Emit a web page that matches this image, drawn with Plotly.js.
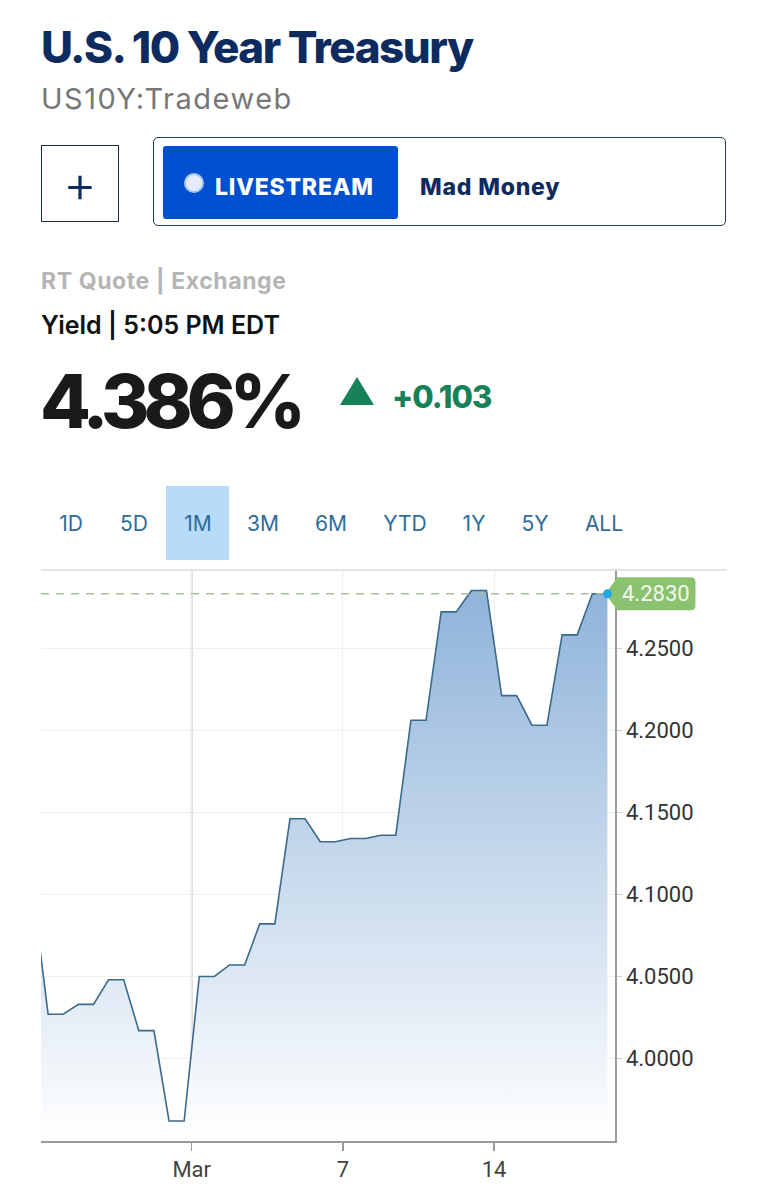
<!DOCTYPE html>
<html>
<head>
<meta charset="utf-8">
<script src="https://cdn.plot.ly/plotly-3.0.1.min.js"></script>
<style>
html,body{margin:0;padding:0;background:#fff;width:768px;height:1200px;overflow:hidden;}
.abs{position:absolute;white-space:nowrap;line-height:1;z-index:2;}
#title{left:41px;top:20px;font:800 44px Inter,sans-serif;color:#0d2b5e;letter-spacing:-1.5px;}
#sub{left:41px;top:81px;font:400 29px Inter,sans-serif;color:#777;letter-spacing:1.5px;}
#plus{left:41px;top:145px;width:76px;height:75px;border:1.5px solid #1d2b45;display:flex;align-items:center;justify-content:center;font:300 52px Inter,sans-serif;color:#0d2b5e;}
#outer{left:153px;top:137px;width:571px;height:87px;border:1.5px solid #2a3b55;border-radius:5px;}
#live{left:163px;top:146px;width:235px;height:73px;background:#0050d0;border-radius:3px;}
#radio{left:184px;top:173px;width:16px;height:16px;border-radius:50%;background:#e4ecf8;border:2.5px solid #a9c6ee;}
#livetxt{left:215px;top:173px;font:800 23px Inter,sans-serif;color:#fff;letter-spacing:0.8px;}
#mad{left:420px;top:173px;font:800 23px Inter,sans-serif;color:#0d2b5e;letter-spacing:0.8px;}
#rt{left:41px;top:267px;font:700 23px Inter,sans-serif;color:#b5b5b5;letter-spacing:0.6px;}
#yield{left:41px;top:310px;font:600 25px Inter,sans-serif;color:#111;}
#price{left:40px;top:356px;font:800 74px Inter,sans-serif;color:#1a1a1a;letter-spacing:-6px;}
#tri{left:340px;top:377px;width:0;height:0;border-left:17px solid transparent;border-right:17px solid transparent;border-bottom:28px solid #16825a;}
#chg{left:392px;top:378px;font:800 31px Inter,sans-serif;color:#16825a;letter-spacing:-1px;}
#onem{left:166px;top:486px;width:63px;height:74px;background:#b7dbf9;z-index:1;}
.tab{top:511px;font:400 21px Inter,sans-serif;color:#2d6c9b;text-align:center;width:70px;}
#chart{position:absolute;left:0;top:480px;width:768px;height:720px;z-index:0;}
</style>
</head>
<body>
<div id="chart"></div>
<div class="abs" id="title">U.S. 10 Year Treasury</div>
<div class="abs" id="sub">US10Y:Tradeweb</div>
<div class="abs" id="plus">+</div>
<div class="abs" id="outer"></div>
<div class="abs" id="live"></div>
<div class="abs" id="radio"></div>
<div class="abs" id="livetxt">LIVESTREAM</div>
<div class="abs" id="mad">Mad Money</div>
<div class="abs" id="rt">RT Quote | Exchange</div>
<div class="abs" id="yield">Yield | 5:05 PM EDT</div>
<div class="abs" id="price">4.386%</div>
<div class="abs" id="tri"></div>
<div class="abs" id="chg">+0.103</div>
<div class="abs" id="onem"></div>
<div id="tabs"></div>
<script>
// Yield readings, two per trading session (first one is the tail of a session clipped at the left edge)
const yields = [
  4.101,
  4.027, 4.027,
  4.033, 4.033,
  4.048, 4.048,
  4.017, 4.017,
  3.962, 3.962,
  4.050, 4.050,
  4.057, 4.057,
  4.082, 4.082,
  4.146, 4.146,
  4.132, 4.132,
  4.134, 4.134,
  4.136, 4.136,
  4.206, 4.206,
  4.272, 4.272,
  4.285, 4.285,
  4.221, 4.221,
  4.203, 4.203,
  4.258, 4.258,
  4.283, 4.283
];
const xTickIdx = [10.5, 20.5, 30.5];
const xTickLabels = ['Mar', '7', '14'];
const yTicks = [4.00, 4.05, 4.10, 4.15, 4.20, 4.25];
const lastClose = 4.2830;
const tabs = ['1D', '5D', '1M', '3M', '6M', 'YTD', '1Y', '5Y', 'ALL'];
const tabCenters = [71, 134, 198, 263, 331, 405, 474, 535, 604];

const tabsDiv = document.getElementById('tabs');
tabs.forEach((t, i) => {
  const d = document.createElement('div');
  d.className = 'abs tab';
  d.style.left = (tabCenters[i] - 35) + 'px';
  d.textContent = t;
  tabsDiv.appendChild(d);
});

const xs = yields.map((_, i) => i);
const lastX = xs[xs.length - 1];
const xRange = [0.53, 38.5];
const lastPaperX = (lastX - xRange[0]) / (xRange[1] - xRange[0]);

const trace = {
  x: xs, y: yields, type: 'scatter', mode: 'lines',
  line: {color: '#3b6a8c', width: 1.6},
  fill: 'tozeroy',
  fillgradient: {type: 'vertical', start: 3.95, stop: 4.29,
    colorscale: [[0, 'rgba(255,255,255,1)'], [1, '#8db2d9']]},
  hoverinfo: 'skip'
};

const layout = {
  width: 768, height: 720,
  margin: {l: 41, r: 153, t: 90, b: 59},
  paper_bgcolor: 'rgba(0,0,0,0)', plot_bgcolor: 'rgba(0,0,0,0)',
  showlegend: false,
  xaxis: {
    range: xRange, tickmode: 'array', tickvals: xTickIdx, ticktext: xTickLabels,
    showgrid: true, gridcolor: '#eeeeee', gridwidth: 1,
    showline: true, linecolor: '#9a9a9a', linewidth: 1.5,
    ticks: 'outside', ticklen: 8, tickcolor: '#9a9a9a', tickwidth: 1.5,
    tickfont: {family: 'Roboto, sans-serif', size: 22, color: '#444'},
    zeroline: false, fixedrange: true
  },
  yaxis: {
    side: 'right', range: [3.9498, 4.2975],
    tickmode: 'array', tickvals: yTicks, tickformat: '.4f',
    showgrid: true, gridcolor: '#eeeeee', gridwidth: 1,
    showline: true, linecolor: '#9a9a9a', linewidth: 1.5,
    ticks: 'outside', ticklen: 5, tickcolor: '#cccccc',
    tickfont: {family: 'Roboto, sans-serif', size: 22, color: '#333'},
    zeroline: false, fixedrange: true
  },
  shapes: [
    {type: 'line', xref: 'x', yref: 'paper', x0: xTickIdx[0], x1: xTickIdx[0], y0: 0, y1: 1,
     line: {color: '#d3d3d3', width: 2}, layer: 'below'},
    {type: 'line', xref: 'paper', yref: 'paper', x0: 0, x1: 1.195, y0: 1, y1: 1,
     line: {color: '#dddddd', width: 1.5}, layer: 'above'},
    {type: 'line', xref: 'x', yref: 'y', x0: xRange[0], x1: lastX, y0: lastClose, y1: lastClose,
     line: {color: '#a9c09a', width: 1.5, dash: '8px,7px'}, layer: 'above'},
    {type: 'path', xref: 'paper', yref: 'y', xsizemode: 'pixel', ysizemode: 'pixel',
     xanchor: lastPaperX, yanchor: lastClose,
     path: 'M -2,0 L 10,-16.5 L 83,-16.5 Q 88,-16.5 88,-12 L 88,12 Q 88,16.5 83,16.5 L 10,16.5 Z',
     fillcolor: '#8bc26f', line: {width: 0}, layer: 'above'},
    {type: 'circle', xref: 'paper', yref: 'y', xsizemode: 'pixel', ysizemode: 'pixel',
     xanchor: lastPaperX, yanchor: lastClose, x0: -4.5, x1: 4.5, y0: -4.5, y1: 4.5,
     fillcolor: '#1fa7e6', line: {width: 0}, layer: 'above'}
  ],
  annotations: [
    {xref: 'paper', yref: 'y', x: lastPaperX, y: lastClose, xanchor: 'left', yanchor: 'middle',
     xshift: 13, text: lastClose.toFixed(4), showarrow: false,
     font: {family: 'Roboto, sans-serif', size: 22, color: '#f4f8ef'}}
  ]
};

Plotly.newPlot('chart', [trace], layout, {displayModeBar: false, staticPlot: true});
</script>
</body>
</html>
